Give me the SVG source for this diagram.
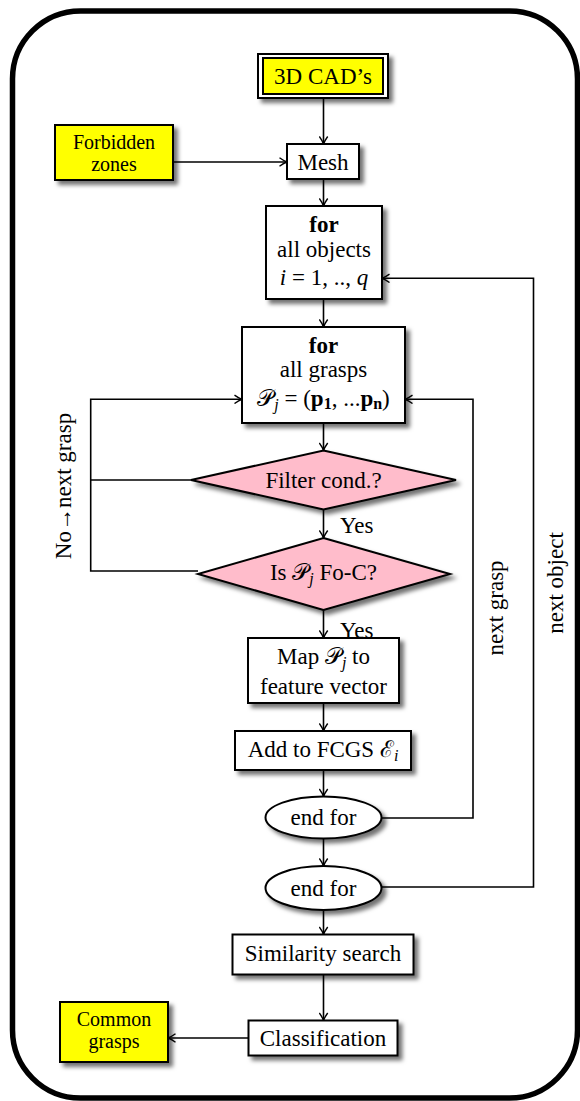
<svg xmlns="http://www.w3.org/2000/svg" width="580" height="1101" viewBox="0 0 580 1101">
  <style>
    text { font-family: "Liberation Serif", "DejaVu Serif", serif; font-size: 23px; fill: #000; }
    .c { text-anchor: middle; }
    .two { font-size: 20px; }
    .box { fill: #fff; stroke: #000; stroke-width: 2; }
    .io { fill: #ffff00; stroke: #000; stroke-width: 2; }
    .dec { fill: #ffbccb; stroke: #000; stroke-width: 2; }
    .edge { fill: none; stroke: #000; stroke-width: 1.6; }
    .frame { fill: none; stroke: #000; stroke-width: 5.5; }
    .sub { font-size: 16px; }
  </style>
  <defs>
    <filter id="shadow" x="-20%" y="-20%" width="150%" height="160%">
      <feDropShadow dx="4" dy="4" stdDeviation="2" flood-color="#000" flood-opacity="0.55"/>
    </filter>
    <marker id="arrow" viewBox="-9 -5 10 10" refX="0" refY="0" markerWidth="10" markerHeight="10" markerUnits="userSpaceOnUse" orient="auto">
      <path d="M -7.5,-4.2 Q -3,-1 0,0 Q -3,1 -7.5,4.2" fill="none" stroke="#000" stroke-width="1.4"/>
    </marker>
  </defs>

  <!-- outer frame -->
  <rect class="frame" x="12.5" y="11" width="565" height="1087" rx="68" ry="68"/>

  <!-- connectors -->
  <g id="connectors">
    <line class="edge" x1="323.5" y1="98" x2="323.5" y2="144" marker-end="url(#arrow)"/>
    <line class="edge" x1="173" y1="162" x2="287" y2="162" marker-end="url(#arrow)"/>
    <line class="edge" x1="323.5" y1="179" x2="323.5" y2="206" marker-end="url(#arrow)"/>
    <line class="edge" x1="323.5" y1="299" x2="323.5" y2="327" marker-end="url(#arrow)"/>
    <line class="edge" x1="323.5" y1="423" x2="323.5" y2="450.5" marker-end="url(#arrow)"/>
    <line class="edge" x1="323.5" y1="509.5" x2="323.5" y2="538" marker-end="url(#arrow)"/>
    <line class="edge" x1="323.5" y1="610" x2="323.5" y2="638" marker-end="url(#arrow)"/>
    <line class="edge" x1="323.5" y1="703" x2="323.5" y2="731" marker-end="url(#arrow)"/>
    <line class="edge" x1="323.5" y1="770" x2="323.5" y2="796.5" marker-end="url(#arrow)"/>
    <line class="edge" x1="323.5" y1="838.5" x2="323.5" y2="866" marker-end="url(#arrow)"/>
    <line class="edge" x1="323.5" y1="910" x2="323.5" y2="934.5" marker-end="url(#arrow)"/>
    <line class="edge" x1="323.5" y1="974.5" x2="323.5" y2="1020.5" marker-end="url(#arrow)"/>
    <line class="edge" x1="248.5" y1="1038" x2="168" y2="1038" marker-end="url(#arrow)"/>
    <!-- "No" branches back to the grasp loop -->
    <polyline class="edge" points="191,480 90.7,480"/>
    <polyline class="edge" points="198,571 90.7,571 90.7,399.3 242,399.3" marker-end="url(#arrow)"/>
    <!-- inner loop: next grasp -->
    <polyline class="edge" points="381.5,818 473,818 473,399.3 405,399.3" marker-end="url(#arrow)"/>
    <!-- outer loop: next object -->
    <polyline class="edge" points="381.5,887 533.5,887 533.5,278.3 382,278.3" marker-end="url(#arrow)"/>
  </g>

  <!-- edge labels -->
  <g id="labels">
    <text x="340" y="533" font-size="22">Yes</text>
    <text x="340" y="637.5" font-size="22">Yes</text>
    <text class="c" transform="translate(70.5,486) rotate(-90)">No→next grasp</text>
    <text class="c" transform="translate(503,608) rotate(-90)">next grasp</text>
    <text class="c" transform="translate(563,583) rotate(-90)">next object</text>
  </g>

  <g id="cad">
    <rect class="box" x="258" y="54" width="130" height="44" filter="url(#shadow)"/>
    <rect class="io" x="263" y="58" width="120" height="36"/>
    <text class="c" x="323" y="83.5">3D CAD’s</text>
  </g>

  <g id="forbidden">
    <rect class="io" x="55" y="125" width="118" height="55" filter="url(#shadow)"/>
    <text class="c two" x="114" y="148.5">Forbidden</text>
    <text class="c two" x="114" y="171">zones</text>
  </g>

  <g id="mesh">
    <rect class="box" x="287" y="144" width="72" height="35" filter="url(#shadow)"/>
    <text class="c" x="323" y="169.5">Mesh</text>
  </g>

  <g id="objects">
    <rect class="box" x="266" y="206" width="116" height="93" filter="url(#shadow)"/>
    <text class="c" x="324" y="232" font-weight="bold">for</text>
    <text class="c" x="324" y="257">all objects</text>
    <text class="c" x="324" y="285"><tspan font-style="italic">i</tspan> = 1, .., <tspan font-style="italic">q</tspan></text>
  </g>

  <g id="grasps">
    <rect class="box" x="242" y="327" width="163" height="96" filter="url(#shadow)"/>
    <text class="c" x="323.5" y="353" font-weight="bold">for</text>
    <text class="c" x="323.5" y="377">all grasps</text>
    <text class="c" x="323.5" y="406">𝒫<tspan class="sub" font-style="italic" dy="4">j</tspan><tspan dy="-4"> = (</tspan><tspan font-weight="bold">p</tspan><tspan class="sub" font-weight="bold" dy="3">1</tspan><tspan dy="-3">, ...</tspan><tspan font-weight="bold">p</tspan><tspan class="sub" font-weight="bold" dy="3">n</tspan><tspan dy="-3">)</tspan></text>
  </g>

  <g id="filter-cond">
    <polygon class="dec" points="323.5,450.5 456,480 323.5,509.5 191,480" filter="url(#shadow)"/>
    <text class="c" x="323.5" y="488">Filter cond.?</text>
  </g>

  <g id="force-closure">
    <polygon class="dec" points="323.5,538 450,574 323.5,610 198,574" filter="url(#shadow)"/>
    <text class="c" x="323.5" y="580">Is 𝒫<tspan class="sub" font-style="italic" dy="4">j</tspan><tspan dy="-4"> Fo-C?</tspan></text>
  </g>

  <g id="map">
    <rect class="box" x="248" y="638" width="151" height="65" filter="url(#shadow)"/>
    <text class="c" x="323.5" y="664">Map 𝒫<tspan class="sub" font-style="italic" dy="4">j</tspan><tspan dy="-4"> to</tspan></text>
    <text class="c" x="323.5" y="694">feature vector</text>
  </g>

  <g id="add">
    <rect class="box" x="235" y="731" width="176" height="39" filter="url(#shadow)"/>
    <text class="c" x="323" y="757">Add to FCGS ℰ<tspan class="sub" font-style="italic" dy="4">i</tspan></text>
  </g>

  <g id="endfor-grasps">
    <ellipse class="box" cx="323.5" cy="817.5" rx="58" ry="21" filter="url(#shadow)"/>
    <text class="c" x="323.5" y="825">end for</text>
  </g>

  <g id="endfor-objects">
    <ellipse class="box" cx="323.5" cy="888" rx="58" ry="22" filter="url(#shadow)"/>
    <text class="c" x="323.5" y="896">end for</text>
  </g>

  <g id="similarity">
    <rect class="box" x="232.5" y="934.5" width="181" height="40" filter="url(#shadow)"/>
    <text class="c" x="323" y="960.5">Similarity search</text>
  </g>

  <g id="classification">
    <rect class="box" x="248.5" y="1020.5" width="149" height="35" filter="url(#shadow)"/>
    <text class="c" x="323" y="1046">Classification</text>
  </g>

  <g id="common">
    <rect class="io" x="60" y="1002" width="108" height="60" filter="url(#shadow)"/>
    <text class="c two" x="114" y="1025.5">Common</text>
    <text class="c two" x="114" y="1048">grasps</text>
  </g>
</svg>
